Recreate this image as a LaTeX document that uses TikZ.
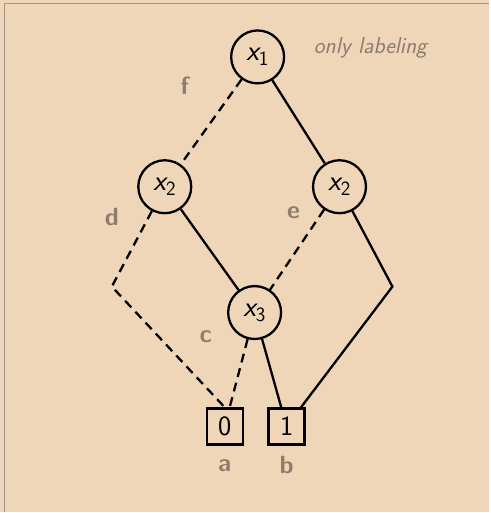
\documentclass[tikz,border=0pt]{standalone}
\usepackage{fontspec}
\begin{document}
\definecolor{paper}{RGB}{239,214,185}
\definecolor{labelgray}{RGB}{140,125,110}
\definecolor{framegray}{RGB}{160,150,140}
\begin{tikzpicture}[x=1pt,y=-1pt,
  font=\sffamily,
  var/.style={circle,draw,line width=2.3pt,minimum size=53pt,inner sep=0pt,
    font=\sffamily\fontsize{29}{31}\selectfont},
  term/.style={rectangle,draw,line width=2.3pt,minimum size=36pt,inner sep=0pt,
    font=\sffamily\fontsize{28}{30}\selectfont},
  lbl/.style={text=labelgray,font=\sffamily\bfseries\fontsize{25}{27}\selectfont},
  hi/.style={line width=2.3pt},
  lo/.style={line width=2.3pt,dash pattern=on 9pt off 6pt},
]
% background and frame
\fill[paper] (0,0) rectangle (490,513);
\draw[framegray,line width=1.5pt] (4.5,513) -- (4.5,3.5) -- (490,3.5);
\useasboundingbox (0,0) rectangle (490,513);

% decision nodes
\node[var] (x1) at (258,57) {{\itshape x}\textsubscript{1}};
\node[var] (x2l) at (165,187) {{\itshape x}\textsubscript{2}};
\node[var] (x2r) at (340,187) {{\itshape x}\textsubscript{2}};
\node[var] (x3) at (255,313) {{\itshape x}\textsubscript{3}};
% terminals
\node[term] (t0) at (225,427) {0};
\node[term] (t1) at (287,427) {1};
% bends
\coordinate (bl) at (112,287);
\coordinate (br) at (393,287);

% edges
\draw[lo] (x1) -- (x2l);
\draw[hi] (x1) -- (x2r);
\draw[lo] (x2l) -- (bl) -- (t0.north);
\draw[hi] (x2l) -- (x3);
\draw[lo] (x2r) -- (x3);
\draw[hi] (x2r) -- (br) -- (t1);
\draw[lo] (x3) -- (t0);
\draw[hi] (x3) -- (t1);

% labels
\node[lbl] (lf) at (185,86) {f};
\node[lbl] (ld) at (112,217) {d};
\node[lbl] (le) at (294,213) {e};
\node[lbl] (lc) at (206,337) {c};
\node[lbl] (la) at (225,466) {a};
\node[lbl] (lb) at (287,466) {b};
\node[text=labelgray,font=\sffamily\itshape\fontsize{23}{25}\selectfont] (note) at (371,48) {only labeling};
\end{tikzpicture}
\end{document}
